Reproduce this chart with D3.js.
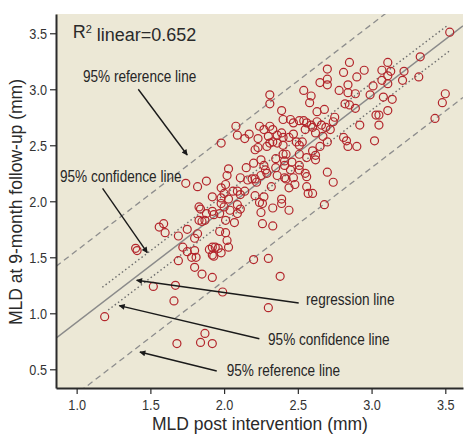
<!DOCTYPE html>
<html>
<head>
<meta charset="utf-8">
<script src="https://cdn.jsdelivr.net/npm/d3@7"></script>
<style>
  body { margin: 0; background: #fff; }
  .tick text { font-family: "Liberation Sans", Arial, sans-serif; font-size: 15.5px; fill: #333; }
  .label { font-family: "Liberation Sans", Arial, sans-serif; font-size: 17px; fill: #262626; }
  .title { font-family: "Liberation Sans", Arial, sans-serif; font-size: 17.5px; fill: #2a2a2a; }
</style>
</head>
<body>
<div id="chart"></div>
<script>
// MLD post intervention (x) vs MLD at 9-month follow-up (y), mm
let postMLD = [1.74,1.56,1.59,1.60,1.75,1.69,1.80,1.72,1.75,1.80,1.78,1.40,1.41,1.69,1.52,1.67,1.66,1.19,1.68,
  1.88,1.82,1.92,1.83,1.84,1.88,1.92,1.83,1.85,1.87,1.82,1.92,1.92,1.81,1.80,1.85,1.92,1.87,1.84,1.92,
  1.93,1.98,2.00,2.04,2.09,2.11,2.09,1.97,2.01,2.07,1.97,2.01,2.02,2.03,1.94,1.90,1.96,1.98,1.93,1.99,
  2.20,2.30,2.38,2.30,2.24,2.26,2.25,2.26,2.33,2.33,2.39,2.44,
  2.31,2.31,2.39,2.40,2.45,2.47,2.08,2.09,2.14,2.17,2.24,2.27,2.31,2.33,2.23,2.30,2.36,2.39,2.40,2.44,2.47,
  2.31,2.33,2.36,2.40,2.29,2.23,2.21,2.49,2.51,2.40,2.42,2.35,2.41,1.98,2.03,2.02,2.15,2.20,2.25,2.27,2.28,
  2.35,2.41,2.45,2.51,2.51,2.11,2.16,2.19,2.21,2.22,2.25,2.29,2.36,2.41,2.42,2.47,2.32,2.44,2.48,
  1.98,2.01,2.06,2.00,2.09,2.14,2.21,2.27,1.98,2.03,2.11,2.39,
  2.85,2.70,2.81,2.95,2.70,2.65,2.70,2.90,2.84,2.78,2.84,2.89,3.01,2.99,2.54,2.59,2.58,2.82,2.85,2.89,
  2.63,2.68,3.03,3.05,2.75,2.74,2.92,3.05,2.51,2.54,2.56,2.59,2.60,2.63,2.66,2.69,2.72,2.55,2.62,2.67,
  2.70,2.53,2.81,2.83,2.84,2.90,3.02,2.65,2.60,2.51,2.56,2.62,2.62,2.46,2.55,2.56,2.70,2.74,2.56,2.57,
  2.60,2.68,3.53,3.33,3.11,3.22,3.13,3.07,3.11,3.07,3.11,3.21,3.32,3.08,3.14,3.11,3.50,3.48,3.43];
let followMLD = [2.16,1.77,1.80,1.72,1.75,1.69,1.67,1.59,1.55,1.56,1.50,1.58,1.56,1.47,1.24,1.25,1.11,0.97,0.73,
  2.18,2.13,2.04,1.95,1.93,1.89,1.91,1.83,1.82,1.83,1.71,1.59,1.52,1.50,1.41,1.35,1.32,0.82,0.74,0.73,
  1.88,1.98,1.95,1.92,1.97,1.93,1.89,1.89,1.83,1.81,1.73,1.72,1.65,1.59,1.59,1.57,1.58,1.54,1.51,1.19,
  1.48,1.49,1.33,1.05,1.99,1.98,1.90,1.80,1.94,1.78,1.98,1.92,
  2.95,2.87,2.81,2.73,2.73,2.70,2.67,2.59,2.56,2.60,2.67,2.64,2.67,2.64,2.56,2.58,2.59,2.61,2.57,2.57,2.60,
  2.52,2.53,2.52,2.50,2.49,2.48,2.46,2.53,2.50,2.42,2.42,2.38,2.36,2.52,2.29,2.23,2.30,2.34,2.37,2.32,2.28,
  2.30,2.32,2.28,2.32,2.28,2.21,2.19,2.20,2.20,2.17,2.23,2.25,2.23,2.21,2.20,2.21,2.13,2.12,2.15,
  2.12,2.15,2.09,2.07,2.09,2.09,2.05,2.04,2.03,2.02,2.06,2.02,
  3.24,3.18,3.15,3.17,3.09,3.06,3.04,3.11,3.04,2.99,2.97,2.96,3.03,2.95,2.99,2.94,2.88,2.87,2.86,2.83,
  2.80,2.82,2.77,2.77,2.75,2.71,2.68,2.68,2.72,2.72,2.70,2.68,2.66,2.71,2.68,2.66,2.64,2.64,2.61,2.58,
  2.53,2.53,2.57,2.54,2.49,2.49,2.54,2.49,2.45,2.42,2.39,2.41,2.37,2.35,2.25,2.22,2.26,2.17,2.13,2.07,
  2.07,1.97,3.51,3.29,3.24,3.16,3.16,3.17,3.12,3.08,3.05,3.08,3.11,2.93,2.91,2.81,2.96,2.88,2.74];

let xTicks = [1.0, 1.5, 2.0, 2.5, 3.0, 3.5];
let yTicks = [0.5, 1.0, 1.5, 2.0, 2.5, 3.0, 3.5];

// fitted line and bands
let regSlope = 1.01, regIntercept = -0.09;
let refOffset = 0.64;
let confUpper = [[1.174, 1.232], [3.510, 3.565]];
let confLower = [[1.214, 1.029], [3.528, 3.342]];

// annotation text: [label, labelX, labelY, fromX, fromY, toX, toY]
let notes = [
  ["95% reference line", 1.043, 3.065, 1.418, 3.000, 1.750, 2.413],
  ["95% confidence line", 0.887, 2.172, 1.176, 2.116, 1.479, 1.541],
  ["regression line", 2.556, 1.071, 2.506, 1.092, 1.407, 1.295],
  ["95% confidence line", 2.298, 0.714, 2.239, 0.773, 1.289, 1.068],
  ["95% reference line", 2.018, 0.437, 1.950, 0.485, 1.429, 0.654]
];

let width = 464, height = 434;
let margin = {top: 14, right: 1, bottom: 46, left: 56};
let narrow = 0.8;   // condensed look of the labels

let x = d3.scaleLinear().domain([0.86, 3.62]).range([margin.left, width - margin.right]);
let y = d3.scaleLinear().domain([0.333, 3.672]).range([height - margin.bottom, margin.top]);

let svg = d3.select("#chart").append("svg")
    .attr("width", width)
    .attr("height", height);

svg.append("defs").append("marker")
    .attr("id", "arrow")
    .attr("viewBox", "0 0 10 10")
    .attr("refX", 9).attr("refY", 5)
    .attr("markerWidth", 10).attr("markerHeight", 6)
    .attr("markerUnits", "userSpaceOnUse")
    .attr("orient", "auto")
    .append("path")
    .attr("d", "M0,0 L10,5 L0,10 z")
    .attr("fill", "#1a1a1a");

// plot background
svg.append("rect")
    .attr("x", margin.left).attr("y", margin.top)
    .attr("width", width - margin.left - margin.right)
    .attr("height", height - margin.top - margin.bottom)
    .attr("fill", "#ece8d6");

let plot = svg.append("g");
plot.append("clipPath").attr("id", "clip")
    .append("rect")
    .attr("x", margin.left).attr("y", margin.top)
    .attr("width", width - margin.left - margin.right)
    .attr("height", height - margin.top - margin.bottom);
let lines = plot.append("g").attr("clip-path", "url(#clip)");

let xs = x.domain();
function fitLine(off) {
    return xs.map(function(v) { return [v, regSlope * v + regIntercept + off]; });
}
let line = d3.line().x(function(d) { return x(d[0]); }).y(function(d) { return y(d[1]); });

// reference lines (dashed)
[refOffset, -refOffset].forEach(function(o) {
    lines.append("path").attr("d", line(fitLine(o)))
        .attr("fill", "none").attr("stroke", "#8d8d8d")
        .attr("stroke-width", 1.3).attr("stroke-dasharray", "6,4");
});
// confidence lines (dotted)
[confUpper, confLower].forEach(function(c) {
    lines.append("path").attr("d", line(c))
        .attr("fill", "none").attr("stroke", "#6e6e6e")
        .attr("stroke-width", 1.4).attr("stroke-dasharray", "1.5,2.6");
});
// regression line
lines.append("path").attr("d", line(fitLine(0)))
    .attr("fill", "none").attr("stroke", "#8a8a8a").attr("stroke-width", 1.5);

// points
plot.selectAll("circle")
    .data(postMLD.map(function(v, i) { return [v, followMLD[i]]; }))
    .enter().append("circle")
    .attr("cx", function(d) { return x(d[0]); })
    .attr("cy", function(d) { return y(d[1]); })
    .attr("r", 4)
    .attr("fill", "none")
    .attr("stroke", "#b3262c")
    .attr("stroke-width", 1.2);

// axes
let xAxis = svg.append("g")
    .attr("transform", "translate(0," + (height - margin.bottom) + ")")
    .call(d3.axisBottom(x).tickValues(xTicks).tickFormat(d3.format(".1f")).tickSize(6).tickSizeOuter(0).tickPadding(4));
let yAxis = svg.append("g")
    .attr("transform", "translate(" + margin.left + ",0)")
    .call(d3.axisLeft(y).tickValues(yTicks).tickFormat(d3.format(".1f")).tickSize(6).tickSizeOuter(0).tickPadding(5));
[xAxis, yAxis].forEach(function(a) {
    a.select(".domain").attr("stroke", "#2b2b2b").attr("stroke-width", 2);
    a.selectAll(".tick line").attr("stroke", "#2b2b2b").attr("stroke-width", 1.2);
    a.selectAll(".tick text").attr("transform", "scale(0.82,1)");
});
xAxis.selectAll(".tick text").attr("dy", "0.75em");
yAxis.selectAll(".tick text").attr("dy", "0.36em");

// annotations
notes.forEach(function(n) {
    svg.append("line")
        .attr("x1", x(n[3])).attr("y1", y(n[4]))
        .attr("x2", x(n[5])).attr("y2", y(n[6]))
        .attr("stroke", "#1a1a1a").attr("stroke-width", 1.4)
        .attr("marker-end", "url(#arrow)");
    svg.append("text").attr("class", "label")
        .attr("transform", "translate(" + x(n[1]) + "," + y(n[2]) + ") scale(" + narrow + ",1)")
        .text(n[0]);
});

let r2 = svg.append("text").attr("class", "title")
    .attr("x", x(0.973)).attr("y", y(3.458))
    .style("font-size", "18px");
r2.append("tspan").text("R");
r2.append("tspan").attr("dy", "-0.45em").style("font-size", "11px").text("2");
r2.append("tspan").attr("dy", "0.45em").text(" linear=0.652");

// axis titles
svg.append("text").attr("class", "title")
    .attr("x", (margin.left + width) / 2).attr("y", 430)
    .attr("text-anchor", "middle")
    .text("MLD post intervention (mm)");
svg.append("text").attr("class", "title")
    .attr("transform", "translate(22," + 202 + ") rotate(-90)")
    .attr("text-anchor", "middle")
    .text("MLD at 9-month follow-up (mm)");
</script>
</body>
</html>
